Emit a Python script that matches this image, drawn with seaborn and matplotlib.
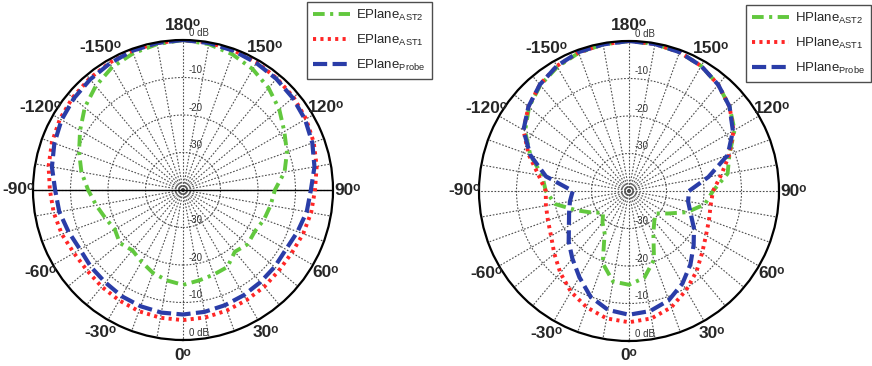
import numpy as np
import matplotlib
matplotlib.use("Agg")
import matplotlib.pyplot as plt
import seaborn as sns

# ---------------- data (dB, angles in degrees) ----------------
ANGLES = list(range(-180, 181, 10))

E_AST2 = [0, -0.5, -1.2, -2.2, -3.8, -5.8, -8.3, -10.5, -12.5, -14.7,
          -16.5, -18.0, -19.0, -18.0, -19.0, -17.9, -16.5, -15.5, -14.7,
          -15.5, -16.0, -16.3, -18.5, -17.5, -17.9, -17.0, -16.3, -15.5,
          -12.5, -10.5, -8.8, -6.5, -4.5, -2.8, -1.5, -0.5, 0]
E_AST1 = [0, -0.2, -0.5, -0.8, -1.2, -1.6, -2.1, -2.8, -3.6, -4.5,
          -5.0, -5.6, -6.4, -6.6, -6.3, -6.0, -5.6, -5.4, -5.3,
          -5.5, -5.8, -6.1, -6.3, -6.6, -6.5, -5.9, -5.3, -4.8,
          -3.8, -2.9, -2.1, -1.5, -1.1, -0.7, -0.4, -0.1, 0]
E_PROBE = [0, -0.2, -0.5, -1.0, -1.5, -2.0, -2.6, -3.5, -4.5, -5.9,
           -6.5, -7.5, -8.3, -8.0, -7.8, -7.3, -7.0, -6.8, -6.8,
           -7.0, -7.3, -7.6, -7.9, -8.1, -8.3, -7.5, -6.5, -5.9,
           -4.4, -3.3, -2.4, -1.8, -1.3, -0.9, -0.5, -0.2, 0]

H_AST2 = [0, -0.3, -0.8, -1.8, -3.2, -5.2, -8.0, -12.0, -16.5, -17.8,
          -20.0, -25.0, -28.5, -31.0, -29.0, -27.0, -19.5, -15.5, -15.0,
          -16.5, -20.5, -27.0, -29.5, -30.7, -28.0, -23.5, -19.5, -17.6,
          -13.3, -11.5, -7.5, -5.0, -3.0, -1.5, -0.6, -0.2, 0]
H_AST1 = [0, -0.3, -0.7, -1.5, -3.0, -5.0, -7.5, -11.5, -15.5, -17.8,
          -17.5, -17.0, -16.0, -14.0, -11.5, -9.0, -7.0, -5.5, -5.0,
          -5.5, -7.0, -9.5, -12.0, -14.5, -16.3, -17.3, -17.9, -17.6,
          -15.0, -11.5, -7.8, -5.0, -3.0, -1.5, -0.6, -0.2, 0]
H_PROBE = [0, -0.3, -0.6, -1.5, -3.0, -5.0, -7.5, -12.0, -17.5, -25.0,
           -24.0, -23.0, -21.5, -19.0, -16.5, -13.5, -10.0, -7.8, -7.0,
           -7.5, -9.0, -11.5, -14.5, -17.5, -20.0, -22.5, -24.0, -24.0,
           -18.5, -12.0, -8.0, -5.0, -3.0, -1.5, -0.6, -0.2, 0]

ANGLE_LABELS = [0, 30, 60, 90, 120, 150, 180, -150, -120, -90, -60, -30]
RING_LABELS = [(0, "0 dB"), (-10, "-10"), (-20, "-20"), (-30, "-30")]

LEFT_NAMES = [r"EPlane$_{\rm AST2}$", r"EPlane$_{\rm AST1}$", r"EPlane$_{\rm Probe}$"]
RIGHT_NAMES = [r"HPlane$_{\rm AST2}$", r"HPlane$_{\rm AST1}$", r"HPlane$_{\rm Probe}$"]

# ---------------- style ----------------
sns.set_style("white")
plt.rcParams["font.family"] = ["Liberation Sans", "DejaVu Sans"]
plt.rcParams["mathtext.fontset"] = "custom"
plt.rcParams["mathtext.rm"] = "Liberation Sans"
plt.rcParams["mathtext.it"] = "Liberation Sans:italic"
plt.rcParams["mathtext.bf"] = "Liberation Sans:bold"
plt.rcParams["axes.unicode_minus"] = False

STYLES = [
    dict(color="#62c83e", linestyle=(0, (3.0, 1.4, 0.8, 1.4)), linewidth=2.8),
    dict(color="#ff2626", linestyle=(0, (0.8, 1.1)), linewidth=2.8),
    dict(color="#2a3da8", linestyle=(0, (3.4, 1.3)), linewidth=3.0),
]

fig = plt.figure(figsize=(8.72, 3.66), dpi=100)

th = np.deg2rad(np.array(ANGLES, dtype=float))


def draw_panel(rect, series, names, legend_anchor, solid_axis):
    ax = fig.add_axes(rect, projection="polar")
    ax.set_theta_zero_location("S")
    ax.set_theta_direction(1)
    for vals, name, st in zip(series, names, STYLES):
        sns.lineplot(x=th, y=np.array(vals, dtype=float), ax=ax, sort=False,
                     estimator=None, label=name, **st)
    if ax.get_legend() is not None:
        ax.get_legend().remove()
    ax.set_xlabel("")
    ax.set_ylabel("")
    ax.set_rlim(-40, 0)
    ax.set_xticks(np.deg2rad(np.arange(0, 360, 10)))
    ax.set_xticklabels([])
    ax.set_yticks([-30, -20, -10])
    ax.set_yticklabels([])
    ax.grid(True, linestyle=(0, (1.5, 1.5)), color="0.3", linewidth=0.8)
    ax.spines["polar"].set_color("black")
    ax.spines["polar"].set_linewidth(1.6)
    if solid_axis:
        ax.plot([np.pi / 2, np.pi / 2], [-40, 0], color="black", lw=1.0, zorder=1)
        ax.plot([-np.pi / 2, -np.pi / 2], [-40, 0], color="black", lw=1.0, zorder=1)
    for a in ANGLE_LABELS:
        ax.text(np.deg2rad(a), 4.0, "%d\u1d52" % a, ha="center",
                va="center", fontsize=12.5, fontweight="bold", clip_on=False)
    for r, lab in RING_LABELS:
        ax.annotate(lab, xy=(np.pi, r), xytext=(4, 1.5), textcoords="offset points",
                    ha="left", va="bottom", fontsize=7, color="#333333")
        ax.annotate(lab, xy=(0, r), xytext=(4, 1.5), textcoords="offset points",
                    ha="left", va="bottom", fontsize=7, color="#333333")
    handles, labels = ax.get_legend_handles_labels()
    fig.legend(handles, labels, loc="upper left", bbox_to_anchor=legend_anchor,
               fancybox=False, edgecolor="0.3", framealpha=1, fontsize=9.5,
               handlelength=2.8, labelspacing=0.75, borderpad=0.45,
               handletextpad=0.5, borderaxespad=0)
    return ax


draw_panel([33 / 872, 26 / 366, 300 / 872, 300 / 366],
           [E_AST2, E_AST1, E_PROBE], LEFT_NAMES, (307 / 872, 1 - 2 / 366), True)
draw_panel([479 / 872, 25 / 366, 300 / 872, 300 / 366],
           [H_AST2, H_AST1, H_PROBE], RIGHT_NAMES, (746 / 872, 1 - 5 / 366), False)

fig.savefig("out.png", dpi=100)
